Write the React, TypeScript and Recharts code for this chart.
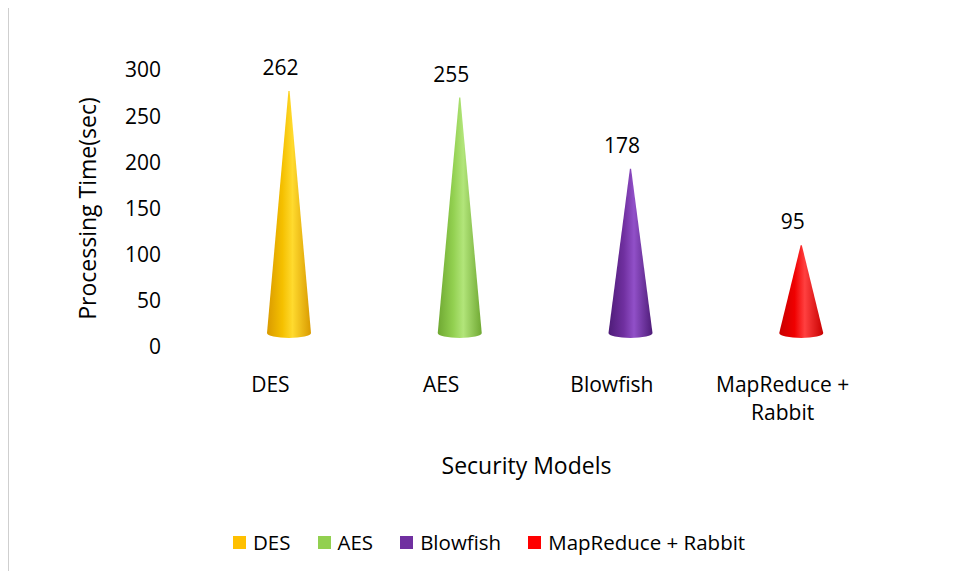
import { BarChart, Bar, XAxis, YAxis, LabelList } from 'recharts';

// Processing time per security model
const models = ['DES', 'AES', 'Blowfish', 'MapReduce + Rabbit'];
const processingTimes = [262, 255, 178, 95];
const modelColors = ['#FFC000', '#92D050', '#7030A0', '#FF0000'];
// side shading of each cone: [edge, mid, highlight]
const coneShades = [
  ['#D99A00', '#F5C000', '#FFDA2E'],
  ['#6FA832', '#92D050', '#B2E57A'],
  ['#4E1C78', '#7030A0', '#9150C8'],
  ['#C80000', '#F00000', '#FF4040'],
];
const yTicks = [0, 50, 100, 150, 200, 250, 300];

const data = models.map((name, i) => ({ name, time: processingTimes[i] }));

const FONT = '"Open Sans", sans-serif';
// fake 3D depth: cones sit back and to the right of their category
const DEPTH_X = 19;
const DEPTH_Y = -14;

function Cone(props: any) {
  const { x, y, width, height, index } = props;
  const cx = x + width / 2 + DEPTH_X;
  const tipY = y + DEPTH_Y;
  const baseY = y + height + DEPTH_Y;
  const r = width / 2;
  const d = `M${cx - r},${baseY} L${cx - 0.6},${tipY} L${cx + 0.6},${tipY} L${cx + r},${baseY} A${r},5 0 0 1 ${cx - r},${baseY} Z`;
  return <path d={d} fill={`url(#cone-${index})`} />;
}

function ValueLabel(props: any) {
  const { x, y, width, value } = props;
  return (
    <text x={x + width / 2 + 10.5} y={y + DEPTH_Y - 16} textAnchor="middle" fontFamily={FONT} fontSize={21} fill="#000">
      {value}
    </text>
  );
}

function ModelTick({ x, y, payload }: any) {
  const text: string = payload.value;
  const cut = text.indexOf(' + ');
  const lines = cut >= 0 ? [text.slice(0, cut + 2), text.slice(cut + 3)] : [text];
  return (
    <text x={x} y={y + 45} textAnchor="middle" fontFamily={FONT} fontSize={21} fill="#000">
      {lines.map((l, i) => (
        <tspan key={i} x={x} dy={i === 0 ? 0 : 28}>{l}</tspan>
      ))}
    </text>
  );
}

export default function App() {
  return (
    <div style={{ position: 'relative', width: 948, height: 566, marginTop: -4, borderTop: '1px solid #cfcfcf', borderLeft: '1px solid #cfcfcf', background: '#fff' }}>
      <BarChart width={939} height={565} data={data} margin={{ top: 65, right: 80, left: 0, bottom: 0 }}>
        <defs>
          {coneShades.map((s, i) => (
            <linearGradient key={i} id={`cone-${i}`} x1="0" y1="0" x2="1" y2="0">
              <stop offset="0%" stopColor={s[0]} />
              <stop offset="35%" stopColor={s[1]} />
              <stop offset="58%" stopColor={s[2]} />
              <stop offset="100%" stopColor={s[0]} />
            </linearGradient>
          ))}
        </defs>
        <XAxis
          dataKey="name"
          height={223}
          axisLine={false}
          tickLine={false}
          tickSize={0}
          tickMargin={0}
          interval={0}
          tick={<ModelTick />}
          label={{
            content: ({ viewBox }: any) => (
              <text x={viewBox.x + viewBox.width / 2} y={469} textAnchor="middle" fontFamily={FONT} fontSize={23} fill="#000">
                Security Models
              </text>
            ),
          }}
        />
        <YAxis
          width={176}
          domain={[0, 300]}
          ticks={yTicks}
          axisLine={false}
          tickLine={false}
          tickSize={0}
          tickMargin={24}
          tick={{ fontFamily: FONT, fontSize: 21, fill: '#000' }}
          label={{
            content: ({ viewBox }: any) => (
              <text
                transform={`translate(79,${viewBox.y + viewBox.height / 2}) rotate(-90)`}
                dy="0.35em"
                textAnchor="middle"
                fontFamily={FONT}
                fontSize={23}
                fill="#000"
              >
                Processing Time(sec)
              </text>
            ),
          }}
        />
        <Bar dataKey="time" barSize={44} shape={<Cone />} isAnimationActive={false}>
          <LabelList dataKey="time" content={<ValueLabel />} />
        </Bar>
      </BarChart>
      <div
        style={{
          position: 'absolute',
          top: 523,
          left: 224,
          display: 'flex',
          alignItems: 'center',
          fontFamily: FONT,
          fontSize: 20.5,
          color: '#000',
          lineHeight: '28px',
          whiteSpace: 'nowrap',
        }}
      >
        {models.map((m, i) => (
          <div key={m} style={{ display: 'flex', alignItems: 'center', marginRight: 27 }}>
            <span style={{ width: 13, height: 13, background: modelColors[i], marginRight: 7, display: 'inline-block' }} />
            <span>{m}</span>
          </div>
        ))}
      </div>
    </div>
  );
}
